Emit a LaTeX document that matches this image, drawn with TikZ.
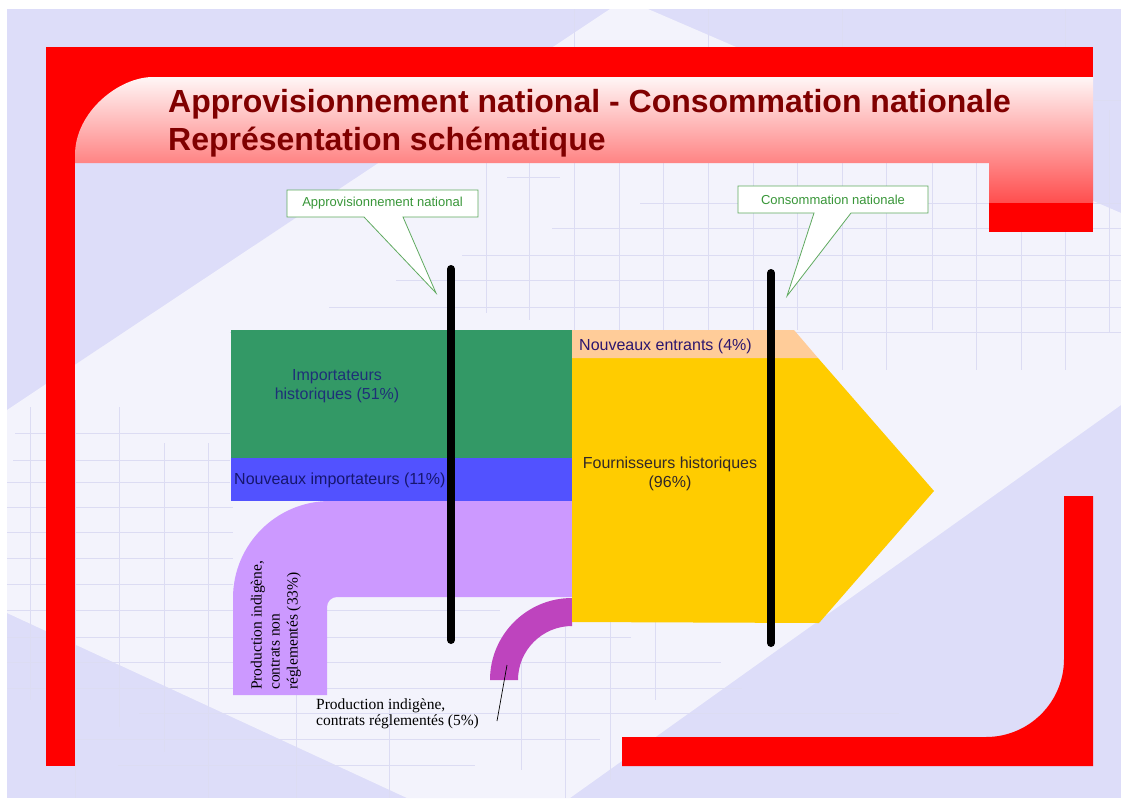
\documentclass[tikz,border=0pt]{standalone}
\usepackage{fontspec}
\setmainfont{Liberation Serif}
\setsansfont{Liberation Sans}
\definecolor{paper}{RGB}{221,221,249}
\definecolor{paperlight}{RGB}{243,243,252}
\definecolor{gridc}{RGB}{220,220,243}
\definecolor{framered}{RGB}{255,0,0}
\definecolor{bantop}{RGB}{255,246,246}
\definecolor{banbot}{RGB}{255,78,78}
\definecolor{titlered}{RGB}{128,0,0}
\definecolor{callgreen}{RGB}{96,170,96}
\definecolor{calltext}{RGB}{56,150,56}
\definecolor{impgreen}{RGB}{51,153,102}
\definecolor{newblue}{RGB}{82,82,255}
\definecolor{lilac}{RGB}{204,153,255}
\definecolor{magentap}{RGB}{190,68,190}
\definecolor{histyellow}{RGB}{255,204,0}
\definecolor{peach}{RGB}{255,204,153}
\definecolor{navytext}{RGB}{30,48,120}
\definecolor{bluetext}{RGB}{22,22,110}
\definecolor{purpletext}{RGB}{44,22,110}
\definecolor{darktext}{RGB}{50,40,40}
\begin{document}
\begin{tikzpicture}[x=1pt,y=-1pt,
  gridline/.style={draw=gridc,line width=0.8pt},
  titletext/.style={font=\sffamily\bfseries\fontsize{32}{38}\selectfont,text=titlered,inner sep=0pt},
  calloutbox/.style={fill=white,draw=callgreen,line width=0.8pt,line join=miter},
  callouttext/.style={font=\sffamily\fontsize{13}{15}\selectfont,text=calltext,inner sep=0pt},
  blocktext/.style={font=\sffamily\fontsize{16}{19}\selectfont,inner sep=0pt,align=center},
  seriftext/.style={font=\rmfamily\fontsize{15.5}{16.5}\selectfont,inner sep=0pt,align=left,text=black},
  bar/.style={line width=8pt,line cap=round,draw=black}]
\useasboundingbox (0,0) rectangle (1121,798);

% paper and its lighter band
\fill[white] (0,0) rectangle (1121,798);
\fill[paper] (7,9) rectangle (1121,798);
\fill[paperlight] (7,410) -- (610,9) -- (648,9) -- (1121,213) -- (1121,405)
  -- (570,798) -- (407,798) -- (7,613) -- cycle;

% faint graph-paper lines
\foreach \xa/\ya/\xb/\yb in {
  574/9/574/370, 619/160/619/345, 663/160/663/370, 708/9/708/370,
  753/160/753/345, 797/160/797/330, 842/9/842/370, 886/160/886/370,
  932/160/932/330, 976/160/976/370, 1021/160/1021/370, 1065/9/1065/370,
  1109/110/1109/333, 486/160/486/313, 529/160/529/320,
  507/177/560/177, 640/203/1121/203, 552/228/1121/228, 462/255/1121/255,
  396/280/1121/280, 329/307/1121/307, 230/332/1121/332, 1093/100/1121/100,
  30/407/30/700, 75/400/75/798, 119/407/119/727, 164/443/164/752,
  208/443/208/798, 296/650/296/798, 389/700/389/798, 521/640/521/770,
  565/620/565/798, 610/620/610/780, 655/620/655/700,
  15/433/230/433, 13/460/230/460, 7/482/230/482, 7/507/233/507,
  7/532/233/532, 7/558/233/558, 7/584/233/584, 7/610/500/610,
  7/637/631/637, 7/662/721/662, 7/688/742/688, 139/713/899/713,
  75/739/600/739, 118/765/475/765}
  \draw[gridline] (\xa,\ya) -- (\xb,\yb);

% red frame, top-left corner piece
\fill[framered] (46,47) rectangle (1093,77);
\fill[framered] (46,47) rectangle (75,766);
\fill[framered] (75,77) rectangle (160,160);
% shaded title banner
\path[top color=bantop,bottom color=banbot]
  (75,163) -- (75,155) .. controls (75,111.9) and (118.9,77) .. (153,77)
  -- (1093,77) -- (1093,203) -- (989,203) -- (989,163) -- cycle;
\fill[framered] (989,203) rectangle (1093,232);
% red frame, bottom-right corner piece
\fill[framered] (622,737) -- (986,737) .. controls (1029.1,737) and (1064,702.1) .. (1064,659)
  -- (1064,496) -- (1093,496) -- (1093,766) -- (622,766) -- cycle;

\node[titletext,anchor=base west] (title1) at (168,112)
  {Approvisionnement national - Consommation nationale};
\node[titletext,anchor=base west] (title2) at (168,150)
  {Représentation schématique};

% speech-bubble labels
\draw[calloutbox] (287,190) -- (478,190) -- (478,217) -- (403,217) -- (436,293)
  -- (364,217) -- (287,217) -- cycle;
\node[callouttext] (supply) at (382.5,203.5) {Approvisionnement national};
\draw[calloutbox] (738,186) -- (928,186) -- (928,213) -- (851,213) -- (787,296)
  -- (814,213) -- (738,213) -- cycle;
\node[callouttext] (demand) at (833,199.5) {Consommation nationale};

% supply streams
\fill[impgreen] (231,330) rectangle (572,458);
\fill[newblue] (231,458) rectangle (572,501);
\fill[lilac] (572,501) -- (330,501) .. controls (276.4,501) and (233,544.4) .. (233,598)
  -- (233,695) -- (327,695) -- (327,607) .. controls (327,601.5) and (331.5,597) .. (337,597)
  -- (572,597) -- cycle;
\fill[magentap] (572,598) .. controls (526.7,598) and (490,634.7) .. (490,680)
  -- (518,680) .. controls (518,650.2) and (542.2,626) .. (572,626) -- cycle;

% consumption arrow
\fill[histyellow] (572,358) -- (818,358) -- (934,491) -- (819,623) -- (572,622) -- cycle;
\fill[peach] (572,330) -- (794,330) -- (818,358) -- (572,358) -- cycle;

% stream labels
\node[blocktext,text=navytext] (imphist) at (337,386)
  {Importateurs\\historiques (51\%)};
\node[blocktext,text=bluetext,anchor=west] (impnew) at (234,480)
  {Nouveaux importateurs (11\%)};
\node[blocktext,text=purpletext,anchor=west] (entrants) at (579,346)
  {Nouveaux entrants (4\%)};
\node[blocktext,text=darktext] (fournhist) at (670,474)
  {Fournisseurs historiques\\(96\%)};
\node[seriftext,rotate=90,anchor=west,font=\rmfamily\fontsize{15.5}{18}\selectfont]
  (prodfree) at (276,690)
  {Production indigène,\\contrats non\\réglementés (33\%)};
\node[seriftext,anchor=west] (prodreg) at (316,714)
  {Production indigène,\\contrats réglementés (5\%)};

% leader from the regulated-production label to its stream
\coordinate (leadfoot) at (497,721);
\coordinate (leadhead) at (507,665);
\draw[black,line width=0.7pt] (leadfoot) -- (leadhead);

% measurement bars
\coordinate (supplytop) at (451,269);
\coordinate (supplybot) at (451,640);
\coordinate (demandtop) at (771,273);
\coordinate (demandbot) at (771,643);
\draw[bar] (supplytop) -- (supplybot);
\draw[bar] (demandtop) -- (demandbot);
\end{tikzpicture}
\end{document}
